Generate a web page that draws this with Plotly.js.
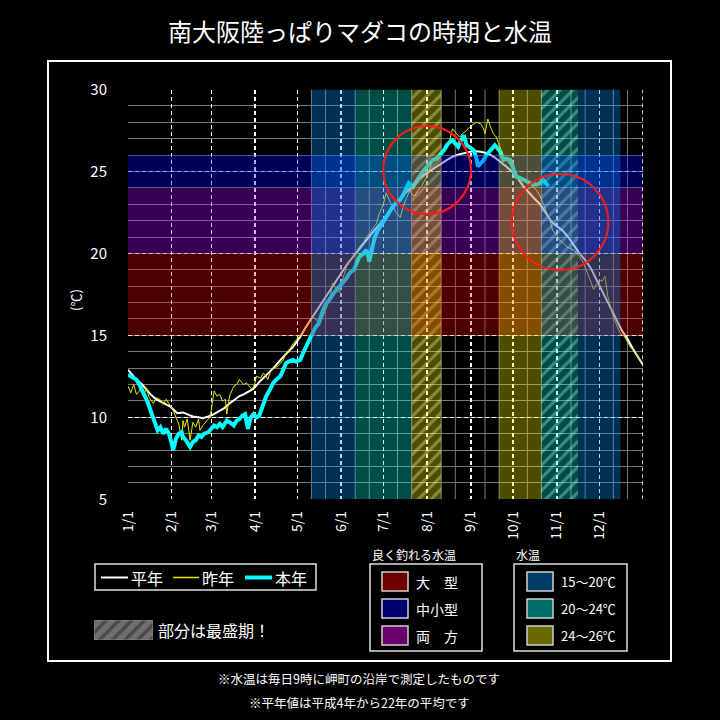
<!DOCTYPE html>
<html>
<head>
<meta charset="utf-8">
<script src="https://cdn.plot.ly/plotly-3.0.1.min.js"></script>
<style>html,body{margin:0;padding:0;background:#000;}#chart{width:720px;height:720px;}</style>
</head>
<body>
<div id="chart"></div>
<script>
// ---------- DATA ----------
const monthTickDays = [0,31,59,90,120,151,181,212,243,273,304,334];
const monthTickText = ["1/1","2/1","3/1","4/1","5/1","6/1","7/1","8/1","9/1","10/1","11/1","12/1"];

// 平年 (normal)
const normalDays = [0,5,10,13,16,20,25,30,35,39,43,46,50,53,57,60,64,68,72,75,79,82,86,89,93,96,100,103,107,110,114,117,120,122,126,129,134,140,145,150,155,160,165,169,175,180,185,190,195,200,205,210,215,220,225,230,235,240,245,250,255,260,264,268,272,276,280,284,288,292,296,300,304,308,312,316,320,324,328,332,335,338,342,346,350,354,358,362,365];
const normalTemp = [12.9,12.4,12.0,11.7,11.4,11.1,10.9,10.65,10.25,10.3,10.15,10.05,10.0,9.95,10.05,10.15,10.35,10.55,10.85,11.05,11.3,11.4,11.6,11.75,12.15,12.4,12.7,13.0,13.4,13.7,14.05,14.3,14.65,14.9,15.5,15.9,16.55,17.3,18.0,18.7,19.3,19.85,20.4,20.8,21.45,21.95,22.5,23.05,23.55,23.95,24.45,24.8,25.1,25.4,25.65,25.9,26.05,26.15,26.25,26.2,26.1,25.85,25.6,25.3,25.0,24.6,24.1,23.7,23.35,23.0,22.5,21.95,21.65,21.4,21.0,20.5,20.0,19.6,19.1,18.4,17.9,17.4,16.7,16.0,15.3,14.8,14.15,13.6,13.2];

// 昨年 (last year)
const lastYearDays = [0,2,4,6,9,11,13,15,18,20,23,25,27,30,32,34,36,38,39,40,42,44,46,48,50,51,53,56,58,59,60,61,63,65,67,69,70,72,75,77,79,82,84,86,88,90,91,94,96,98,99,101,103,106,108,110,112,115,117,120,122,124,127,129,131,133,136,139,141,143,145,147,150,152,155,158,161,164,167,169,172,174,176,178,181,183,186,188,190,193,195,197,200,201,203,205,208,210,212,214,216,219,221,224,226,228,230,232,235,237,240,242,245,247,250,252,253,254,255,257,259,261,262,264,266,268,270,272,274,276,278,280,283,285,287,290,292,294,297,299,301,304,306,309,311,313,316,318,320,323,325,327,330,332,334,336,338,340,342,344,346,349,351,352,354,356,358,360,362,364];
const lastYearTemp = [11.9,11.5,12.0,11.4,11.7,11.3,11.8,11.2,10.85,11.2,11.06,10.8,11.1,10.7,10.45,10.0,9.6,8.6,9.8,9.4,9.9,8.6,9.7,9.4,9.9,9.2,9.5,9.8,10.0,10.45,11.0,11.6,11.3,11.4,11.0,11.1,10.2,11.3,11.9,12.0,12.3,12.0,12.1,11.9,11.7,12.1,12.5,12.4,12.7,12.5,12.3,12.8,13.0,13.1,13.3,13.5,13.9,14.2,14.5,14.8,15.0,15.2,15.6,15.9,16.1,16.0,15.7,16.4,16.75,17.2,18.2,17.9,17.6,18.4,19.2,19.6,19.9,20.4,20.7,21.0,21.3,21.6,21.8,22.4,23.0,23.7,23.1,22.85,22.5,22.2,22.85,23.3,23.9,23.6,23.5,23.8,24.1,24.4,24.7,25.2,25.7,25.8,25.9,26.2,26.5,26.9,27.6,27.4,27.1,27.3,27.5,27.7,27.9,28.0,27.9,27.6,27.3,27.8,28.2,27.7,27.3,27.1,26.9,26.4,25.9,25.7,25.5,25.3,25.1,24.8,24.5,24.2,23.9,24.0,24.1,23.8,23.5,23.1,22.5,22.0,21.4,21.1,20.8,20.6,20.4,20.3,20.2,20.0,19.8,19.4,19.0,18.5,17.8,18.1,18.4,18.3,18.6,17.4,16.8,16.1,15.7,15.1,15.0,14.9,14.6,14.3,14.1,13.9,13.6,13.3];

// 本年 (this year)
const thisYearDays = [0,2,4,6,8,10,12,14,16,17,19,21,23,25,27,29,31,32,34,36,38,39,41,43,44,46,48,50,52,54,57,59,61,63,65,67,70,72,75,77,79,81,83,85,87,89,91,93,95,97,98,100,103,105,108,110,112,114,117,119,122,124,125,128,130,133,135,138,140,142,144,146,149,152,155,157,160,162,164,167,169,170,171,173,175,177,180,183,186,188,190,193,195,197,199,202,205,207,209,212,214,216,219,221,224,226,228,230,232,234,236,238,240,242,245,247,248,250,252,254,257,260,262,264,266,268,271,273,275,278,280,282,285,287,290,292,294,296,298];
const thisYearTemp = [12.6,12.5,12.4,12.3,12.0,11.7,11.3,10.9,10.4,10.2,9.8,9.2,9.4,9.0,9.3,9.0,8.4,8.0,8.7,9.0,9.1,8.8,8.6,8.3,8.2,8.5,8.6,8.9,8.8,9.0,9.1,9.3,9.5,9.4,9.6,9.4,9.8,9.7,9.5,9.8,9.9,10.1,10.2,9.3,10.0,10.2,10.0,10.1,10.6,11.0,11.3,11.6,12.1,12.3,12.5,12.9,13.3,13.4,13.5,13.4,13.5,13.9,14.1,14.6,15.0,15.5,15.7,16.5,16.9,17.1,17.4,17.6,17.9,18.2,18.5,18.8,19.0,19.4,19.8,20.0,20.2,19.9,19.5,20.3,21.0,21.4,21.8,22.2,22.65,22.9,23.06,23.3,23.56,24.0,24.3,24.07,24.5,24.7,25.0,25.3,25.5,25.7,25.8,26.0,26.3,26.6,26.8,26.9,26.7,26.5,26.9,27.2,26.6,26.5,26.3,25.8,25.3,25.5,25.7,26.0,26.3,26.6,26.4,26.2,25.7,25.8,25.7,25.2,24.7,24.6,24.5,24.4,24.3,24.2,24.2,24.3,24.5,24.3,24.1];

// Fishing-size temperature bands [low, high]
const sizeBandNames = ["大　型","中小型","両　方"];
const sizeBandRanges = [[15,20],[24,26],[20,24]];
// Water-temperature period bands (day ranges)
const period15to20 = [[130,161],[319,349]];
const period20to24 = [[161,201],[293,319]];
const period24to26 = [[201,222],[263,293]];
const peakPeriods = [[201,222],[293,319]];
const tempBandNames = ["15～20℃","20～24℃","24～26℃"];
// 旬 minor grid days
const junDays = [130,140,161,171,191,201,222,232,253,263,283,293,314,324,344,354];
// highlighted circles [x0,x1,y0,y1]
const circles = [[180.9,243.1,22.4,27.77],[272.1,340.4,18.99,24.84]];

// ---------- STYLE ----------
const FONT = '"Noto Sans CJK JP", "Noto Sans", sans-serif';
const W = 720, H = 720;
const px = v => v / W;
const py = v => 1 - v / H;

const colRed = 'rgba(255,0,0,0.30)';
const colNavy = 'rgba(0,0,255,0.33)';
const colPurple = 'rgba(170,0,255,0.32)';
const colBlue = 'rgba(0,150,255,0.33)';
const colTeal = 'rgba(0,255,230,0.30)';
const colOlive = 'rgba(255,255,0,0.30)';
const sizeBandColors = [colRed, colNavy, colPurple];

const shapes = [];
// minor vertical 旬 lines
junDays.forEach(d => shapes.push({type:'line', xref:'x', yref:'y', x0:d, x1:d, y0:5, y1:30, layer:'below', line:{color:'rgb(120,120,120)', width:1}}));
// horizontal size bands
sizeBandRanges.forEach((r,i) => shapes.push({type:'rect', xref:'x', yref:'y', x0:0, x1:365, y0:r[0], y1:r[1], layer:'above', fillcolor:sizeBandColors[i], line:{width:0}}));
// vertical period bands
[[period15to20,colBlue],[period20to24,colTeal],[period24to26,colOlive]].forEach(([arr,c]) => arr.forEach(r => shapes.push({type:'rect', xref:'x', yref:'y', x0:r[0], x1:r[1], y0:5, y1:30, layer:'above', fillcolor:c, line:{width:0}})));
// right dashed border
shapes.push({type:'line', xref:'x', yref:'y', x0:365, x1:365, y0:5, y1:30, layer:'above', line:{color:'white', width:1.5, dash:'4px,3px'}});
// circles
circles.forEach(c => shapes.push({type:'circle', xref:'x', yref:'y', x0:c[0], x1:c[1], y0:c[2], y1:c[3], layer:'above', line:{color:'#ff1a1a', width:2}}));

// outer frame
shapes.push({type:'rect', xref:'paper', yref:'paper', x0:px(48), x1:px(671), y0:py(661), y1:py(61), line:{color:'white', width:2}});
// line legend box
shapes.push({type:'rect', xref:'paper', yref:'paper', x0:px(95), x1:px(316), y0:py(590), y1:py(564), line:{color:'#e0e0e0', width:1.5}});
const legendLines = [[101,128,'white',2],[173,199,'#e6e600',1.5],[245,272,'#00ffff',4]];
legendLines.forEach(l => shapes.push({type:'line', xref:'paper', yref:'paper', x0:px(l[0]), x1:px(l[1]), y0:py(577.5), y1:py(577.5), line:{color:l[2], width:l[3]}}));
// color legend boxes
shapes.push({type:'rect', xref:'paper', yref:'paper', x0:px(370), x1:px(482), y0:py(651), y1:py(564), line:{color:'#e0e0e0', width:1.5}});
shapes.push({type:'rect', xref:'paper', yref:'paper', x0:px(514), x1:px(627), y0:py(651), y1:py(564), line:{color:'#e0e0e0', width:1.5}});
const rowsY = [[572,591],[599,618],[626,645]];
const sizeSwatch = ['rgb(110,0,0)','rgb(0,0,110)','rgb(105,0,110)'];
const tempSwatch = ['rgb(0,60,100)','rgb(0,110,105)','rgb(105,105,0)'];
rowsY.forEach((r,i) => {
  shapes.push({type:'rect', xref:'paper', yref:'paper', x0:px(382), x1:px(408), y0:py(r[1]), y1:py(r[0]), fillcolor:sizeSwatch[i], line:{color:'#d0d0d0', width:1.5}});
  shapes.push({type:'rect', xref:'paper', yref:'paper', x0:px(527), x1:px(553), y0:py(r[1]), y1:py(r[0]), fillcolor:tempSwatch[i], line:{color:'#d0d0d0', width:1.5}});
});

const annotations = [];
const txt = (text, x, y, size, anchor, extra) => Object.assign({text, xref:'paper', yref:'paper', x:px(x), y:py(y), xanchor:anchor||'left', yanchor:'middle', showarrow:false, font:{family:FONT, size:size, color:'white'}}, extra||{});
annotations.push(txt('(℃)', 75, 300, 13, 'center', {textangle:-90}));
annotations.push(txt('平年', 129, 577.5, 16));
annotations.push(txt('昨年', 200, 577.5, 16));
annotations.push(txt('本年', 273, 577.5, 16));
annotations.push(txt('部分は最盛期！', 156, 630, 16));
annotations.push(txt('良く釣れる水温', 370, 554, 12));
annotations.push(txt('水温', 514, 554, 12));
rowsY.forEach((r,i) => {
  annotations.push(txt(sizeBandNames[i], 414, (r[0]+r[1])/2, 14));
  annotations.push(txt(tempBandNames[i], 559, (r[0]+r[1])/2, 13));
});
annotations.push(txt('※水温は毎日9時に岬町の沿岸で測定したものです', 359, 678, 12.5, 'center'));
annotations.push(txt('※平年値は平成4年から22年の平均です', 359, 702, 12.5, 'center'));

const traces = [
  {type:'scatter', mode:'lines', x:normalDays, y:normalTemp, name:'平年', line:{color:'white', width:2}, zorder:0, showlegend:false, hoverinfo:'skip'},
  {type:'scatter', mode:'lines', x:lastYearDays, y:lastYearTemp, name:'昨年', line:{color:'#e6e600', width:1}, zorder:0, showlegend:false, hoverinfo:'skip'},
  {type:'scatter', mode:'lines', x:thisYearDays, y:thisYearTemp, name:'本年', line:{color:'#00ffff', width:4}, zorder:0, showlegend:false, hoverinfo:'skip'},
  {type:'bar', x:peakPeriods.map(p => (p[0]+p[1])/2), width:peakPeriods.map(p => p[1]-p[0]), base:peakPeriods.map(() => 5), y:peakPeriods.map(() => 25),
   marker:{color:'rgba(0,0,0,0)', line:{width:0}, pattern:{shape:'/', fillmode:'overlay', fgcolor:'white', fgopacity:0.35, bgcolor:'rgba(0,0,0,0)', size:9, solidity:0.35}},
   zorder:1, showlegend:false, hoverinfo:'skip'},
  {type:'bar', x:[0], y:[1], width:[1], xaxis:'x2', yaxis:'y2',
   marker:{color:'rgb(110,110,110)', line:{color:'rgb(140,140,140)', width:1}, pattern:{shape:'/', fillmode:'overlay', fgcolor:'rgb(35,35,35)', size:9, solidity:0.4}},
   showlegend:false, hoverinfo:'skip'}
];

const layout = {
  width:W, height:H,
  margin:{l:0, r:0, t:0, b:0},
  paper_bgcolor:'black', plot_bgcolor:'black',
  showlegend:false,
  barmode:'overlay', bargap:0,
  font:{family:FONT, color:'white'},
  title:{text:'南大阪陸っぱりマダコの時期と水温', x:0.5, xanchor:'center', y:py(33), yanchor:'middle', font:{family:FONT, size:24, color:'white'}},
  xaxis:{domain:[px(128), px(643)], range:[0,365], tickvals:monthTickDays, ticktext:monthTickText, tickangle:-90,
         showgrid:true, gridcolor:'white', gridwidth:1.5, griddash:'4px,3px', zeroline:false,
         showline:true, linecolor:'white', linewidth:2, ticks:'', ticklabelstandoff:4,
         tickfont:{family:FONT, size:14, color:'white'}, fixedrange:true},
  yaxis:{domain:[py(499.3), py(89.5)], range:[5,30], tickvals:[5,10,15,20,25,30],
         showgrid:true, gridcolor:'white', gridwidth:1.5, griddash:'4px,3px', zeroline:false,
         minor:{dtick:1, tick0:0, showgrid:true, gridcolor:'rgb(120,120,120)', gridwidth:1, griddash:'solid'},
         showline:true, linecolor:'white', linewidth:2, ticks:'', ticklabelstandoff:16,
         tickfont:{family:FONT, size:15, color:'white'}, fixedrange:true},
  xaxis2:{domain:[px(94), px(153)], range:[-0.5,0.5], visible:false, fixedrange:true, anchor:'y2'},
  yaxis2:{domain:[py(640), py(620)], range:[0,1], visible:false, fixedrange:true, anchor:'x2'},
  shapes:shapes,
  annotations:annotations
};

Plotly.newPlot('chart', traces, layout, {staticPlot:true, displayModeBar:false});
</script>
</body>
</html>
